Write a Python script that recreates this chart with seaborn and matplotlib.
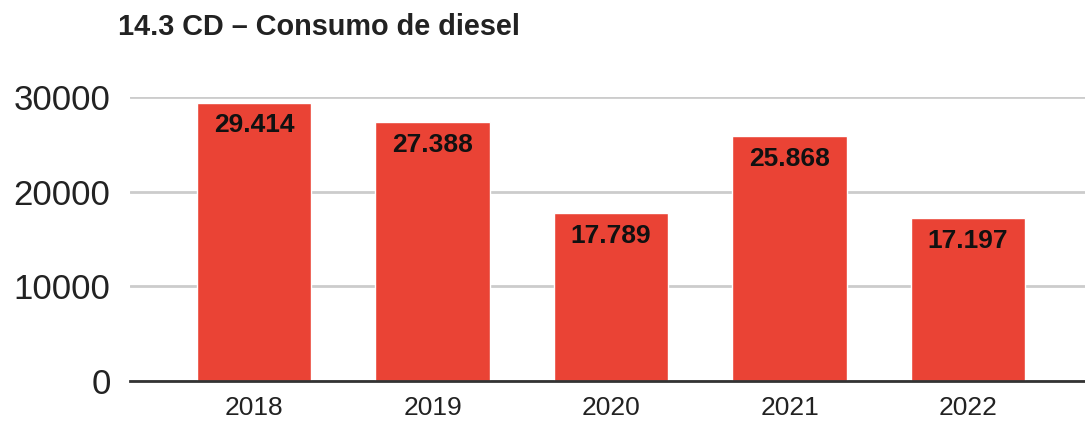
import matplotlib
matplotlib.use("Agg")
import matplotlib.pyplot as plt
import seaborn as sns
import pandas as pd

# Annual diesel consumption
years = ["2018", "2019", "2020", "2021", "2022"]
consumption = [29414, 27388, 17789, 25868, 17197]
value_labels = ["29.414", "27.388", "17.789", "25.868", "17.197"]
y_ticks = [0, 10000, 20000, 30000]

df = pd.DataFrame({"year": years, "consumo": consumption})

sns.set_theme(style="white")
plt.rcParams["font.family"] = ["Liberation Sans", "DejaVu Sans"]

fig = plt.figure(figsize=(10.85, 4.23), dpi=100)
ax = fig.add_axes([0.1198, 0.0993, 0.8802, 0.6714])

sns.barplot(data=df, x="year", y="consumo", color="#EA4335", saturation=1,
            width=0.64, ax=ax, zorder=3)

ax.set_xlim(-0.695, 4.655)
ax.set_ylim(0, 30000)
ax.set_yticks(y_ticks)
ax.set_yticklabels([str(t) for t in y_ticks])

ax.grid(axis="y", color="#cccccc", linewidth=2, zorder=0)
ax.grid(axis="x", visible=False)
for s in ["top", "right", "left"]:
    ax.spines[s].set_visible(False)
ax.spines["bottom"].set_color("#333333")
ax.spines["bottom"].set_linewidth(2)
ax.spines["bottom"].set_zorder(4)

ax.tick_params(axis="y", labelsize=25, colors="#222222", length=0, pad=14)
ax.tick_params(axis="x", labelsize=19, colors="#222222", length=0, pad=11)
ax.set_xlabel("")
ax.set_ylabel("")

for i, (v, lab) in enumerate(zip(consumption, value_labels)):
    ax.annotate(lab, xy=(i, v), xytext=(0, -16.5), textcoords="offset points",
                ha="center", va="center", fontsize=19, fontweight="bold",
                color="#111111", zorder=5)

fig.text(0.109, 0.936, "14.3 CD \u2013 Consumo de diesel", fontsize=20.8,
         fontweight="bold", color="#222222", ha="left", va="center")

fig.savefig("out.png", dpi=100, facecolor="white")
